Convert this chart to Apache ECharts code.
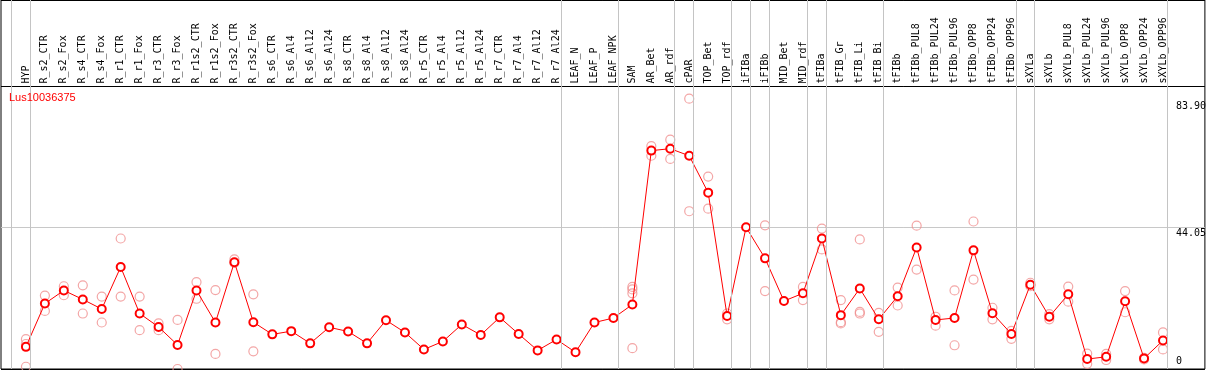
<!DOCTYPE html>
<html>
<head>
<meta charset="utf-8">
<script src="https://cdn.jsdelivr.net/npm/echarts@6/dist/echarts.min.js"></script>
<style>
html,body{margin:0;padding:0;background:#fff;}
#chart{width:1209px;height:370px;}
</style>
</head>
<body>
<div id="chart"></div>
<script>
const geneLabel = 'Lus10036375';
const categories = ['HYP','R_s2_CTR','R_s2_Fox','R_s4_CTR','R_s4_Fox','R_r1_CTR','R_r1_Fox','R_r3_CTR','R_r3_Fox','R_r1s2_CTR','R_r1s2_Fox','R_r3s2_CTR','R_r3s2_Fox','R_s6_CTR','R_s6_Al4','R_s6_Al12','R_s6_Al24','R_s8_CTR','R_s8_Al4','R_s8_Al12','R_s8_Al24','R_r5_CTR','R_r5_Al4','R_r5_Al12','R_r5_Al24','R_r7_CTR','R_r7_Al4','R_r7_Al12','R_r7_Al24','LEAF_N','LEAF_P','LEAF_NPK','SAM','AR_Bet','AR_rdf','cPAR','TOP_Bet','TOP_rdf','iFIBa','iFIBb','MID_Bet','MID_rdf','tFIBa','tFIB_Gr','tFIB_Li','tFIB_Bi','tFIBb','tFIBb_PUL8','tFIBb_PUL24','tFIBb_PUL96','tFIBb_OPP8','tFIBb_OPP24','tFIBb_OPP96','sXYLa','sXYLb','sXYLb_PUL8','sXYLb_PUL24','sXYLb_PUL96','sXYLb_OPP8','sXYLb_OPP24','sXYLb_OPP96'];
const means = [6.9,20.4,24.5,21.7,18.7,31.8,17.3,13.1,7.5,24.5,14.5,33.3,14.6,10.8,11.8,8.0,13.0,11.7,8.0,15.2,11.4,6.1,8.6,13.9,10.6,16.1,10.9,5.8,9.2,5.2,14.5,15.9,20.1,68.1,68.7,66.5,55.0,16.5,44.2,34.5,21.2,23.6,40.7,16.8,25.1,15.5,22.7,37.9,15.3,15.9,37.0,17.4,10.9,26.3,16.3,23.3,3.1,3.8,21.1,3.3,8.9];
const replicates = [
  [9.3,7.8,0.7],[22.9,18.1],[25.8,23.0],[26.1,17.3],[22.6,14.5],[40.7,22.6],[22.6,12.1],[14.2,12.1],[15.3,0],[27.1,21.9],
  [24.6,4.7],[34.2,33.1],[23.3,5.5],[],[],[],[],[],[],[],
  [],[],[],[],[],[],[],[],[],[],
  [],[],[25.6,24.8,23.6,6.5],[69.5,66.5],[71.5,65.5],[84.3,49.2],[60.0,50.0],[17.3,15.5],[],[44.8,24.3],
  [],[25.6,21.5],[43.8,37.3],[21.5,14.6,14.2],[40.4,17.8,17.3],[17.5,11.6],[25.4,19.8],[44.7,31.0],[16.3,13.5],[24.5,7.4],
  [46.0,27.9],[19.1,15.5],[11.9,9.4],[26.9,25.8],[17.1,15.5],[25.7,21.0],[4.8,1.6],[4.7,2.8],[24.3,17.7],[3.5,3.0],
  [11.4,6.1]
];
const yTickValues = [0, 44.05, 83.90];
const yTickLabels = ['0', '44.05', '83.90'];
const groupBreaksAfter = [-1, 0, 28, 31, 34, 35, 37, 38, 39, 41, 42, 45, 52, 53, 60];

// layout constants
const X_MIN = -1.3158, X_MAX = 62.2105;
const Y_MAX = 115.07;
const HALF = 44.05;
const BREAK_OFFSET = 0.235;

const catIdx = categories.map((c, i) => i);
const meanData = means.map((v, i) => [i, v]);
const repData = [];
replicates.forEach((arr, i) => arr.forEach(v => repData.push([i, v])));

const chart = echarts.init(document.getElementById('chart'), null, {renderer: 'canvas'});
const mono = 'DejaVu Sans Mono';
chart.setOption({
  animation: false,
  backgroundColor: '#fff',
  title: {
    text: geneLabel, left: 9, top: 92, padding: 0,
    textStyle: {color: '#ff0000', fontSize: 11, fontWeight: 'normal', fontFamily: 'Liberation Sans'}
  },
  grid: {left: 1, right: 1, top: 0, bottom: 1, show: true, borderColor: '#000', borderWidth: 1, backgroundColor: 'transparent'},
  xAxis: [
    {type: 'value', min: X_MIN, max: X_MAX, position: 'bottom',
     axisLine: {show: false}, axisTick: {show: false}, axisLabel: {show: false}, splitLine: {show: false}},
    {type: 'value', min: X_MIN, max: X_MAX, position: 'top', offset: -86.5,
     axisLine: {show: false}, axisTick: {show: false}, splitLine: {show: false},
     axisLabel: {show: true, customValues: catIdx, rotate: 90, margin: 3,
       fontFamily: mono, fontSize: 10, color: '#000',
       formatter: v => categories[Math.round(v)] || ''}}
  ],
  yAxis: [
    {type: 'value', min: 0, max: Y_MAX, interval: HALF, position: 'right',
     axisLine: {show: false}, axisTick: {show: false},
     splitLine: {show: true, lineStyle: {color: ['#000', '#c8c8c8', '#000', '#000'], width: 1}},
     axisLabel: {show: true, inside: true, align: 'left', margin: 29, verticalAlign: 'top', padding: [1,0,0,0],
       customValues: yTickValues.slice(1), fontFamily: mono, fontSize: 10, color: '#000',
       formatter: v => yTickLabels[yTickValues.findIndex(t => Math.abs(t - v) < 1e-6)]}},
    {type: 'value', min: 0, max: Y_MAX, position: 'right',
     axisLine: {show: false}, axisTick: {show: false}, splitLine: {show: false},
     axisLabel: {show: true, inside: true, align: 'left', margin: 29, verticalAlign: 'bottom', padding: [0,0,3,0],
       customValues: yTickValues.slice(0, 1), fontFamily: mono, fontSize: 10, color: '#000',
       formatter: v => yTickLabels[0]}}
  ],
  series: [
    {type: 'scatter', xAxisIndex: 0, yAxisIndex: 0, data: repData, symbol: 'circle', symbolSize: 9,
     itemStyle: {color: 'rgba(0,0,0,0)', borderColor: '#f09090', borderWidth: 1.2}, z: 2, silent: true,
     markLine: {silent: true, symbol: 'none', animation: false, label: {show: false},
       lineStyle: {color: '#c4c4c4', width: 1, type: 'solid'},
       data: groupBreaksAfter.map(i => ({xAxis: i + BREAK_OFFSET}))}},
    {type: 'line', xAxisIndex: 0, yAxisIndex: 0, data: meanData, symbol: 'emptyCircle', symbolSize: 8,
     itemStyle: {color: '#ff0000', borderWidth: 1.3}, lineStyle: {color: '#ff0000', width: 1}, z: 3, silent: true}
  ]
});
</script>
</body>
</html>
